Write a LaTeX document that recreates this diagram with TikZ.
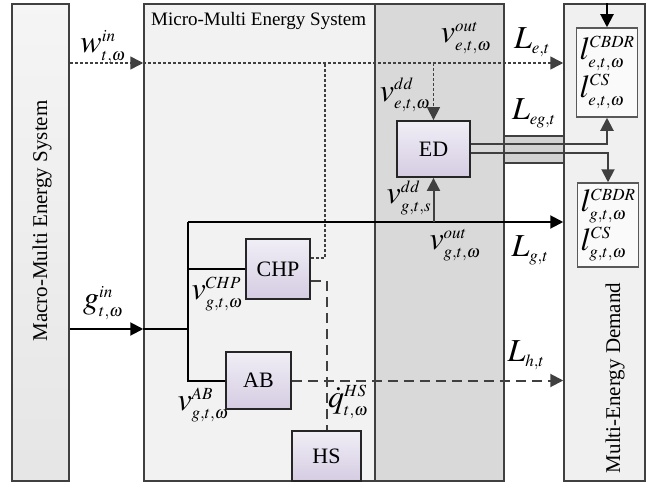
\documentclass[tikz,border=0pt]{standalone}
\usepackage{mathptmx}
\usepackage{fontspec}
\setmainfont{Liberation Serif}
\usepackage{xcolor}
\usetikzlibrary{arrows.meta}
\DeclareMathSizes{32}{32}{17}{13}
\definecolor{panelline}{HTML}{404040}
\definecolor{microfill}{HTML}{F2F2F2}
\definecolor{darkfill}{HTML}{D9D9D9}
\definecolor{demandfill}{HTML}{F0F0F0}
\definecolor{boxtop}{HTML}{F0EEF6}
\definecolor{boxbot}{HTML}{D5CCE2}

\begin{document}
\begin{tikzpicture}[x=1pt,y=-1pt,
  panel/.style={draw=panelline,line width=1.5pt,inner sep=0pt},
  unit/.style={draw=black!85,line width=1.8pt,top color=boxtop,bottom color=boxbot,font=\fontsize{22}{24}\selectfont},
  load/.style={draw=gray!70!black,line width=1.5pt,fill=white!96!gray,align=left,inner sep=1pt,font=\fontsize{32}{34}\selectfont},
  lab/.style={font=\fontsize{32}{34}\selectfont,inner sep=0pt},
  tip/.style={-{Triangle[length=13pt,width=13pt]}},
  eline/.style={draw=panelline,line width=1.5pt,dash pattern=on 3pt off 2pt},
  gline/.style={draw=black,line width=2pt},
  hline/.style={draw=panelline,line width=2pt,dash pattern=on 10pt off 6pt},
  edline/.style={draw=panelline,line width=2pt}]

\useasboundingbox (0,0) rectangle (648,487);

% Panels
\node[panel,minimum width=57pt,minimum height=477pt,top color=gray!8,bottom color=gray!20] (macro) at (40.5,242.5) {};
\node[panel,fill=microfill,minimum width=360pt,minimum height=477pt] (micro) at (324,242.5) {};
\node[panel,fill=darkfill,minimum width=129pt,minimum height=477pt] (dd) at (439.5,242.5) {};
\node[panel,fill=demandfill,minimum width=81pt,minimum height=477pt] (demand) at (604.5,242.5) {};

\node[font=\fontsize{19}{22}\selectfont,anchor=north west,inner sep=0pt] (microlab) at (151,12) {Micro-Multi Energy System};
\node[rotate=90,font=\fontsize{21}{24}\selectfont] (macrolab) at (42,221) {Macro-Multi Energy System};
\node[rotate=90,font=\fontsize{21}{24}\selectfont] (demandlab) at (615,378) {Multi-Energy Demand};

% Line bundle
\node[draw=panelline,line width=1.5pt,fill=gray!35,minimum width=60pt,minimum height=27pt,inner sep=0pt] (legbar) at (534,149.5) {};

% Units
\node[unit,minimum width=73pt,minimum height=56pt] (ED) at (433.5,149) {ED};
\node[unit,minimum width=64pt,minimum height=60pt] (CHP) at (278,269) {CHP};
\node[unit,minimum width=65pt,minimum height=57pt] (AB) at (258.5,380.5) {AB};
\node[unit,minimum width=69pt,minimum height=50pt] (HS) at (326.5,456) {HS};

% Loads
\node[load,minimum width=61pt,minimum height=89pt] (eload) at (607,72.5) {$l^{CBDR}_{e,t,\omega}$\\[3pt]$l^{CS}_{e,t,\omega}$};
\node[load,minimum width=61pt,minimum height=84pt] (gload) at (608,225) {$l^{CBDR}_{g,t,\omega}$\\[3pt]$l^{CS}_{g,t,\omega}$};

\coordinate (wy) at (0,63);
\coordinate (ejoin) at (325,63);
\coordinate (gy) at (0,329);
\coordinate (gbus) at (188,222);

% Electricity
\draw[eline,tip] (macro.east |- wy) -- (micro.west |- wy);
\draw[eline,tip] (micro.west |- wy) -- (demand.west |- wy);
\draw[eline,tip] (ED.north |- wy) -- (ED.north);
\draw[eline] ([yshift=11pt]CHP.east) -| (ejoin);

% Gas
\draw[gline,tip] (macro.east |- gy) -- (micro.west |- gy);
\draw[gline] (micro.west |- gy) -- (gbus |- gy);
\draw[gline] (gbus) |- (AB.west);
\draw[gline] (gbus |- CHP.west) -- (CHP.west);
\draw[gline,tip] (gbus) -- (demand.west |- gbus);
\draw[edline,tip] (ED.south |- gbus) -- (ED.south);
\draw[gline,tip] (eload.north |- demand.north) -- (eload.north);

% Heat
\draw[hline,tip] (AB.east) -- (demand.west |- AB.east);
\draw[hline] ([yshift=-12pt]CHP.east) -| (HS.north);

% ED to loads
\draw[edline,tip] ([yshift=5pt]ED.east) -| (eload.south);
\draw[edline,tip] ([yshift=-4pt]ED.east) -| (gload.north);

% Labels
\node[lab] (win) at (103,47) {$w^{in}_{t,\omega}$};
\node[lab] (veout) at (466,38) {$v^{out}_{e,t,\omega}$};
\node[lab] (Le) at (532,42) {$L_{e,t}$};
\node[lab] (vedd) at (405,95) {$v^{dd}_{e,t,\omega}$};
\node[lab] (Leg) at (534,113) {$L_{eg,t}$};
\node[lab] (vgdd) at (409,198) {$v^{dd}_{g,t,s}$};
\node[lab] (vgout) at (455,245) {$v^{out}_{g,t,\omega}$};
\node[lab] (Lg) at (530,250) {$L_{g,t}$};
\node[lab] (vchp) at (217,294) {$v^{CHP}_{g,t,\omega}$};
\node[lab] (gin) at (103,303) {$g^{in}_{t,\omega}$};
\node[lab] (Lh) at (526,355) {$L_{h,t}$};
\node[lab] (vab) at (203,405) {$v^{AB}_{g,t,\omega}$};
\node[lab] (qhs) at (348,402) {$\dot{q}^{HS}_{t,\omega}$};

\end{tikzpicture}
\end{document}
